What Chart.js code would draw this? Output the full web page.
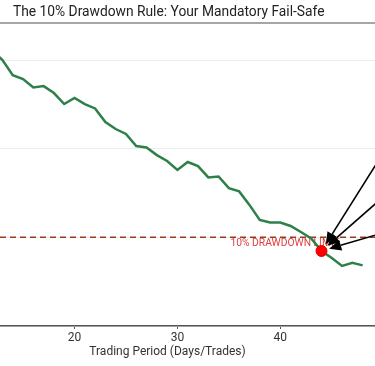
<!DOCTYPE html>
<html>
<head>
<meta charset="utf-8">
<style>
  html, body { margin: 0; padding: 0; background: #fff; }
  #wrap { width: 375px; height: 366px; position: relative; }
</style>
<script src="https://cdn.jsdelivr.net/npm/chart.js@4.4.1/dist/chart.umd.min.js"></script>
</head>
<body>
<div id="wrap"><canvas id="chart"></canvas></div>
<script>
// data (equity as % of starting peak)
const days = [12, 13, 14, 15, 16, 17, 18, 19, 20, 21, 22, 23, 24, 25, 26, 27, 28, 29, 30,
  31, 32, 33, 34, 35, 36, 37, 38, 39, 40, 41, 42, 43, 44, 45, 46, 47, 48];
const equity = [100.56, 100.0, 99.15, 98.93, 98.45, 98.53, 98.14, 97.52, 97.86, 97.52, 97.27,
  96.5, 96.11, 95.83, 95.15, 95.07, 94.64, 94.31, 93.8, 94.25, 94.02, 93.38, 93.43, 92.78,
  92.59, 91.83, 90.98, 90.84, 90.84, 90.64, 90.3, 89.94, 89.23, 88.84, 88.39, 88.56, 88.42];
const limitLevel = 90;
const limitLabel = "10% DRAWDOWN LIMIT";
const breachDay = 44;
const breachValue = 89.23;
// arrows come from notes that sit right of the visible area
const arrowTailDays = [52, 52, 52];
const arrowTailValues = [96.6, 93.3, 90.6];
const xTicks = [20, 30, 40];

const titleText = "The 10% Drawdown Rule: Your Mandatory Fail-Safe";
const xTitle = "Trading Period (Days/Trades)";

const decor = {
  id: "decor",
  beforeDatasetsDraw(chart) {
    const ctx = chart.ctx;
    const a = chart.chartArea;
    const xs = chart.scales.x, ys = chart.scales.y;
    const yl = ys.getPixelForValue(limitLevel);
    ctx.save();
    ctx.strokeStyle = "#9a3a1e";
    ctx.lineWidth = 1.5;
    ctx.setLineDash([6, 4]);
    ctx.beginPath();
    ctx.moveTo(a.left, yl);
    ctx.lineTo(a.right, yl);
    ctx.stroke();
    ctx.setLineDash([]);
    ctx.fillStyle = "#e04040";
    ctx.font = "10.3px Roboto";
    ctx.textBaseline = "middle";
    ctx.textAlign = "left";
    ctx.fillText(limitLabel, xs.getPixelForValue(35.15), ys.getPixelForValue(89.66));
    ctx.restore();
  },
  afterDatasetsDraw(chart) {
    const ctx = chart.ctx;
    const xs = chart.scales.x, ys = chart.scales.y;
    const px = xs.getPixelForValue(breachDay), py = ys.getPixelForValue(breachValue);
    ctx.save();
    ctx.strokeStyle = "#000";
    ctx.fillStyle = "#000";
    ctx.lineWidth = 1.6;
    arrowTailDays.forEach((d, i) => {
      const tx = xs.getPixelForValue(d), ty = ys.getPixelForValue(arrowTailValues[i]);
      const dx = px - tx, dy = py - ty;
      const len = Math.hypot(dx, dy);
      const ux = dx / len, uy = dy / len;
      const tipX = px - ux * 8, tipY = py - uy * 8;
      const hl = 12, hw = 5.5;
      const bx = tipX - ux * hl, by = tipY - uy * hl;
      ctx.beginPath();
      ctx.moveTo(tx, ty);
      ctx.lineTo(bx, by);
      ctx.stroke();
      ctx.beginPath();
      ctx.moveTo(tipX, tipY);
      ctx.lineTo(bx - uy * hw, by + ux * hw);
      ctx.lineTo(bx + uy * hw, by - ux * hw);
      ctx.closePath();
      ctx.fill();
    });
    ctx.restore();
  },
  afterDraw(chart) {
    const ctx = chart.ctx;
    const a = chart.chartArea;
    ctx.save();
    ctx.strokeStyle = "#888";
    ctx.lineWidth = 1.5;
    ctx.beginPath();
    ctx.moveTo(0, a.top);
    ctx.lineTo(chart.width, a.top);
    ctx.stroke();
    ctx.fillStyle = "#222";
    ctx.font = "13.8px Roboto";
    ctx.textBaseline = "middle";
    ctx.textAlign = "left";
    ctx.fillText(titleText, 13, 13);
    ctx.fillStyle = "#333";
    ctx.font = "12px Roboto";
    ctx.textAlign = "center";
    ctx.fillText(xTitle, 167.5, 352);
    ctx.restore();
  }
};

new Chart(document.getElementById("chart"), {
  type: "line",
  data: {
    datasets: [
      {
        type: "scatter",
        data: [{ x: breachDay, y: breachValue }],
        pointRadius: 5.5,
        pointBackgroundColor: "#ff0000",
        pointBorderColor: "#e00000",
        pointBorderWidth: 1,
        order: 0
      },
      {
        data: days.map((d, i) => ({ x: d, y: equity[i] })),
        borderColor: "#2e8049",
        borderWidth: 2.5,
        pointRadius: 0,
        tension: 0,
        order: 1
      }
    ]
  },
  options: {
    responsive: true,
    maintainAspectRatio: false,
    animation: false,
    devicePixelRatio: 1,
    layout: { autoPadding: false, padding: { top: 23, left: 0, right: 0, bottom: 0 } },
    plugins: {
      legend: { display: false },
      title: { display: false },
      tooltip: { enabled: false }
    },
    scales: {
      x: {
        type: "linear",
        min: 12.76,
        max: 49.2,
        afterFit: (s) => { s.height = 40; s.paddingLeft = 0; s.paddingRight = 0; },
        afterBuildTicks: (s) => { s.ticks = xTicks.map(v => ({ value: v })); },
        grid: { drawOnChartArea: false, drawTicks: true, tickLength: 3, color: "#555" },
        border: { display: true, color: "#555", width: 1.5 },
        ticks: { color: "#333", font: { family: "Roboto", size: 12 }, padding: 2 }
      },
      y: {
        min: 85,
        max: 102.09,
        afterFit: (s) => { s.width = 0; },
        ticks: { display: false, stepSize: 5, includeBounds: false },
        grid: { color: "#ececec", lineWidth: 1, drawTicks: false },
        border: { display: false }
      }
    }
  },
  plugins: [decor]
});
</script>
</body>
</html>
